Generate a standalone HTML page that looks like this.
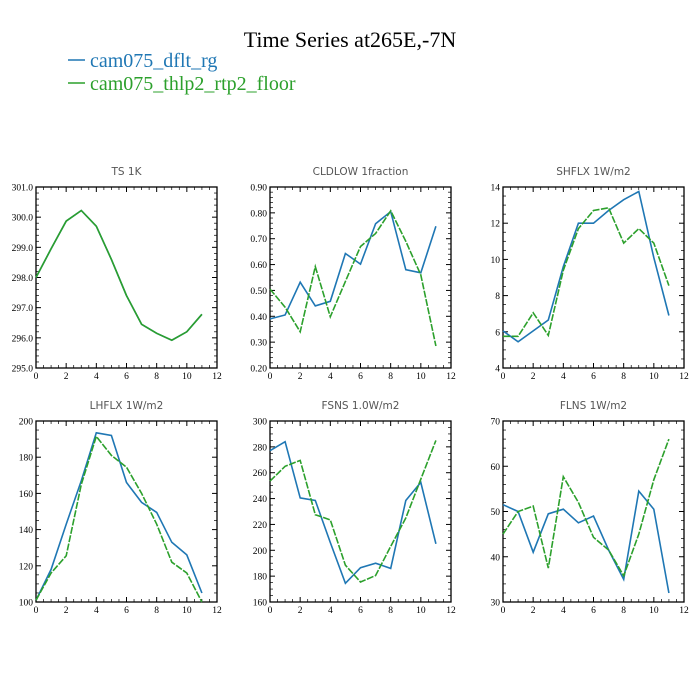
<!DOCTYPE html>
<html><head><meta charset="utf-8"><style>
body{margin:0;background:#fff;width:700px;height:700px;overflow:hidden}
svg{display:block}
</style></head><body>
<svg id="svg" width="700" height="700" xmlns="http://www.w3.org/2000/svg">
<text x="350" y="47" text-anchor="middle" font-family="Liberation Serif, serif" font-size="22">Time Series at265E,-7N</text>
<g>
<line x1="68" y1="60" x2="85" y2="60" stroke="#1f77b4" stroke-width="1.5"/>
<text x="90" y="67" font-family="Liberation Serif, serif" font-size="20" fill="#1f77b4">cam075_dflt_rg</text>
<line x1="68" y1="83" x2="85" y2="83" stroke="#2ca02c" stroke-width="1.5"/>
<text x="90" y="90" font-family="Liberation Serif, serif" font-size="20" fill="#2ca02c">cam075_thlp2_rtp2_floor</text>
</g>
</svg>
<script>
const months=[0,1,2,3,4,5,6,7,8,9,10,11];
const tsBlue=[298.0,298.95,299.87,300.22,299.7,298.6,297.4,296.45,296.15,295.92,296.2,296.78];
const tsGreen=[298.0,298.95,299.87,300.22,299.7,298.6,297.4,296.45,296.15,295.92,296.2,296.78];
const cldBlue=[0.39,0.405,0.532,0.44,0.458,0.643,0.602,0.758,0.805,0.58,0.568,0.748];
const cldGreen=[0.505,0.435,0.34,0.592,0.398,0.535,0.67,0.72,0.808,0.69,0.56,0.285];
const shBlue=[6.05,5.45,6.05,6.65,9.6,12.0,12.0,12.7,13.3,13.75,10.1,6.9];
const shGreen=[5.75,5.75,7.05,5.8,9.4,11.7,12.7,12.85,10.9,11.7,10.9,8.55];
const lhBlue=[101,118,143,167,193.5,192,166,155,149.5,133,126,105];
const lhGreen=[101,116,125.5,165,191.5,181,174.5,160,143,122,116,100];
const fsBlue=[277,284,240.5,238.5,206,174.5,186.5,190,186,238.5,252.5,205];
const fsGreen=[253.5,265,269.5,227.5,223.5,188.5,175.5,180.5,203,225,255,285];
const flBlue=[51.5,50,41,49.5,50.5,47.5,49,41.5,35,54.5,50.5,32];
const flGreen=[45,50,51.2,37.5,57.7,52,44.3,41.5,35.8,45,57,66];
const xTicks=[0,2,4,6,8,10,12];
const tsTicks=[295,296,297,298,299,300,301];
const cldTicks=[0.2,0.3,0.4,0.5,0.6,0.7,0.8,0.9];
const shTicks=[4,6,8,10,12,14];
const lhTicks=[100,120,140,160,180,200];
const fsTicks=[160,180,200,220,240,260,280,300];
const flTicks=[30,40,50,60,70];

const NS="http://www.w3.org/2000/svg";
const svg=document.getElementById('svg');
function mk(t,a,p){const e=document.createElementNS(NS,t);for(const k in a)e.setAttribute(k,a[k]);(p||svg).appendChild(e);return e;}
const panels=[
 {name:'ts',title:'TS    1K',x:36,y:187,ticks:tsTicks,fmt:v=>v.toFixed(1),b:tsBlue,g:tsGreen,minor:5,dash:false},
 {name:'cldlow',title:'CLDLOW    1fraction',x:270,y:187,ticks:cldTicks,fmt:v=>v.toFixed(2),b:cldBlue,g:cldGreen,minor:5,dash:true},
 {name:'shflx',title:'SHFLX    1W/m2',x:503,y:187,ticks:shTicks,fmt:v=>String(v),b:shBlue,g:shGreen,minor:4,dash:true},
 {name:'lhflx',title:'LHFLX    1W/m2',x:36,y:421,ticks:lhTicks,fmt:v=>String(v),b:lhBlue,g:lhGreen,minor:4,dash:true},
 {name:'fsns',title:'FSNS    1.0W/m2',x:270,y:421,ticks:fsTicks,fmt:v=>String(v),b:fsBlue,g:fsGreen,minor:4,dash:true},
 {name:'flns',title:'FLNS    1W/m2',x:503,y:421,ticks:flTicks,fmt:v=>String(v),b:flBlue,g:flGreen,minor:5,dash:true}
];
const W=181,H=181;
panels.forEach(p=>{
 const g=mk('g',{});
 
 
 const y0=p.ticks[0],y1=p.ticks[p.ticks.length-1];
 const sx=v=>p.x+v/12*W;
 const sy=v=>p.y+H-(v-y0)/(y1-y0)*H;
 const t=mk('text',{x:p.x+W/2,y:p.y-12,'text-anchor':'middle','font-family':'DejaVu Sans, sans-serif','font-size':'10.5',fill:'#555','xml:space':'preserve'},g);
 t.textContent=p.title;
 
 
 // ticks
 const step=(y1-y0)/(p.ticks.length-1);
 p.ticks.forEach((v,i)=>{
  const y=sy(v);
  mk('line',{x1:p.x,y1:y,x2:p.x+5,y2:y,stroke:'#000','stroke-width':1},g);
  mk('line',{x1:p.x+W,y1:y,x2:p.x+W-5,y2:y,stroke:'#000','stroke-width':1},g);
  const l=mk('text',{x:p.x-3,y:y+3.5,'text-anchor':'end','font-family':'Liberation Serif, serif','font-size':'9.5'},g);
  l.textContent=p.fmt(v);
  
  
  if(i<p.ticks.length-1){for(let k=1;k<p.minor;k++){const ym=sy(v+step*k/p.minor);
   mk('line',{x1:p.x,y1:ym,x2:p.x+3,y2:ym,stroke:'#000','stroke-width':0.7},g);
   mk('line',{x1:p.x+W,y1:ym,x2:p.x+W-3,y2:ym,stroke:'#000','stroke-width':0.7},g);}}
 });
 xTicks.forEach((v,i)=>{
  const x=sx(v);
  mk('line',{x1:x,y1:p.y+H,x2:x,y2:p.y+H-5,stroke:'#000','stroke-width':1},g);
  mk('line',{x1:x,y1:p.y,x2:x,y2:p.y+5,stroke:'#000','stroke-width':1},g);
  const l=mk('text',{x:x,y:p.y+H+11,'text-anchor':'middle','font-family':'Liberation Serif, serif','font-size':'9.5'},g);
  l.textContent=String(v);
  
  
  if(i<xTicks.length-1){for(let k=1;k<4;k++){const xm=sx(v+2*k/4);
   mk('line',{x1:xm,y1:p.y+H,x2:xm,y2:p.y+H-3,stroke:'#000','stroke-width':0.7},g);
   mk('line',{x1:xm,y1:p.y,x2:xm,y2:p.y+3,stroke:'#000','stroke-width':0.7},g);}}
 });
 const box=mk('rect',{x:p.x,y:p.y,width:W,height:H,fill:'none',stroke:'#000','stroke-width':1.3},g);
 
 
 const pts=a=>a.map((v,i)=>sx(months[i]).toFixed(1)+','+sy(v).toFixed(1)).join(' ');
 const lb=mk('polyline',{points:pts(p.b),fill:'none',stroke:'#1f77b4','stroke-width':1.6},g);
 
 
 const lg=mk('polyline',{points:pts(p.g),fill:'none',stroke:'#2ca02c','stroke-width':1.6},g);
 if(p.dash)lg.setAttribute('stroke-dasharray','7,1.5');
 
 
});
</script>
</body></html>
